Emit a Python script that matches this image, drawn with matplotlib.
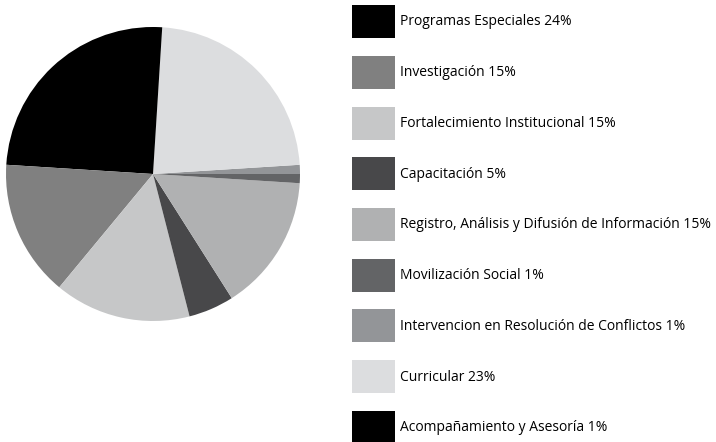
import matplotlib.pyplot as plt
from matplotlib.patches import Patch

# data
labels = ['Programas Especiales', 'Investigación', 'Fortalecimiento Institucional',
          'Capacitación', 'Registro, Análisis y Difusión de Información',
          'Movilización Social', 'Intervencion en Resolución de Conflictos',
          'Curricular', 'Acompañamiento y Asesoría']
shares = [24, 15, 15, 5, 15, 1, 1, 23, 1]
colors = ['#000000', '#808080', '#c6c7c8', '#48484a', '#b0b1b2',
          '#636466', '#939598', '#dcdddf', '#000000']

plt.rcParams['font.family'] = ['Open Sans', 'DejaVu Sans']

W, H = 716, 442
fig = plt.figure(figsize=(W / 100, H / 100), dpi=100)

# pie box in pixels: x 6..300, y 27..321 (from top)
ax = fig.add_axes([6 / W, (H - 321) / H, 294 / W, 294 / H])
ax.pie(shares, colors=colors, startangle=90, counterclock=True,
       radius=1, wedgeprops=dict(linewidth=0))
ax.set_xlim(-1, 1)
ax.set_ylim(-1, 1)
ax.axis('off')

fs = 10
px = fs * 100 / 72
# legend patch height = fs*(0.65*hh + 0.245) points -> want 33 px
hh = ((33 * 0.72) / fs - 0.245) / 0.65
handles = [Patch(facecolor=c, edgecolor='none') for c in colors]
texts = [f'{l} {s}%' for l, s in zip(labels, shares)]
fig.legend(handles, texts, loc='upper left',
           bbox_to_anchor=(352 / W, 1 - 5 / H),
           frameon=False, fontsize=fs, borderpad=0, borderaxespad=0,
           handlelength=43 / px, handleheight=hh,
           handletextpad=5 / px, labelspacing=17.75 / px)

fig.savefig('out.png', dpi=100)
